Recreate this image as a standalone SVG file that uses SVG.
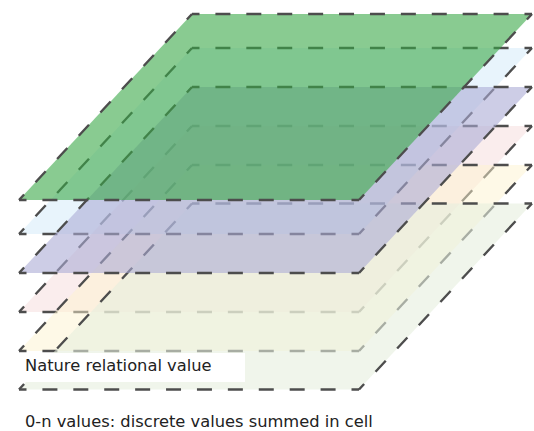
<svg xmlns="http://www.w3.org/2000/svg" width="534" height="431" viewBox="0 0 534 431">
  <style>
    .edge { fill: none; stroke: #4d4d4d; stroke-width: 2.4; stroke-dashoffset: 7.5; }
    .h { stroke-dasharray: 15 15.909; }
    .s { stroke-dasharray: 15 16.75; }
    text { font-family: "DejaVu Sans", "Liberation Sans", sans-serif; font-size: 16.3px; fill: #222; }
  </style>
  <defs>
    <!-- one sheet: a parallelogram with dashed edges, a half dash at every corner -->
    <g id="sheet">
      <polygon points="192,0 532,0 359,186 19,186" stroke="none"/>
      <path class="edge h" d="M192,0H532"/>
      <path class="edge s" d="M532,0L359,186"/>
      <path class="edge h" d="M359,186H19"/>
      <path class="edge s" d="M19,186L192,0"/>
    </g>
  </defs>

  <!-- sheets, painted from back to front -->
  <g id="sheet-pink">
    <use href="#sheet" y="126" fill="#f3d6d6" fill-opacity="0.45"/>
  </g>
  <g id="sheet-cream">
    <use href="#sheet" y="165" fill="#fdf3d0" fill-opacity="0.5"/>
  </g>
  <g id="sheet-base">
    <use href="#sheet" y="203.5" fill="#e6eedd" fill-opacity="0.6"/>
  </g>
  <g id="sheet-blue">
    <use href="#sheet" y="48" fill="#c5e3f8" fill-opacity="0.4"/>
  </g>
  <g id="sheet-lavender">
    <use href="#sheet" y="87" fill="#acacd5" fill-opacity="0.6"/>
  </g>
  <g id="sheet-green">
    <use href="#sheet" y="14" fill="#3aa848" fill-opacity="0.6"/>
  </g>

  <!-- label on the base sheet -->
  <g id="label-nature">
    <rect x="20" y="353" width="225" height="29" fill="#fff"/>
    <text x="25" y="370.5">Nature relational value</text>
  </g>

  <g id="caption">
    <text x="25" y="427">0-n values: discrete values summed in cell</text>
  </g>
</svg>
